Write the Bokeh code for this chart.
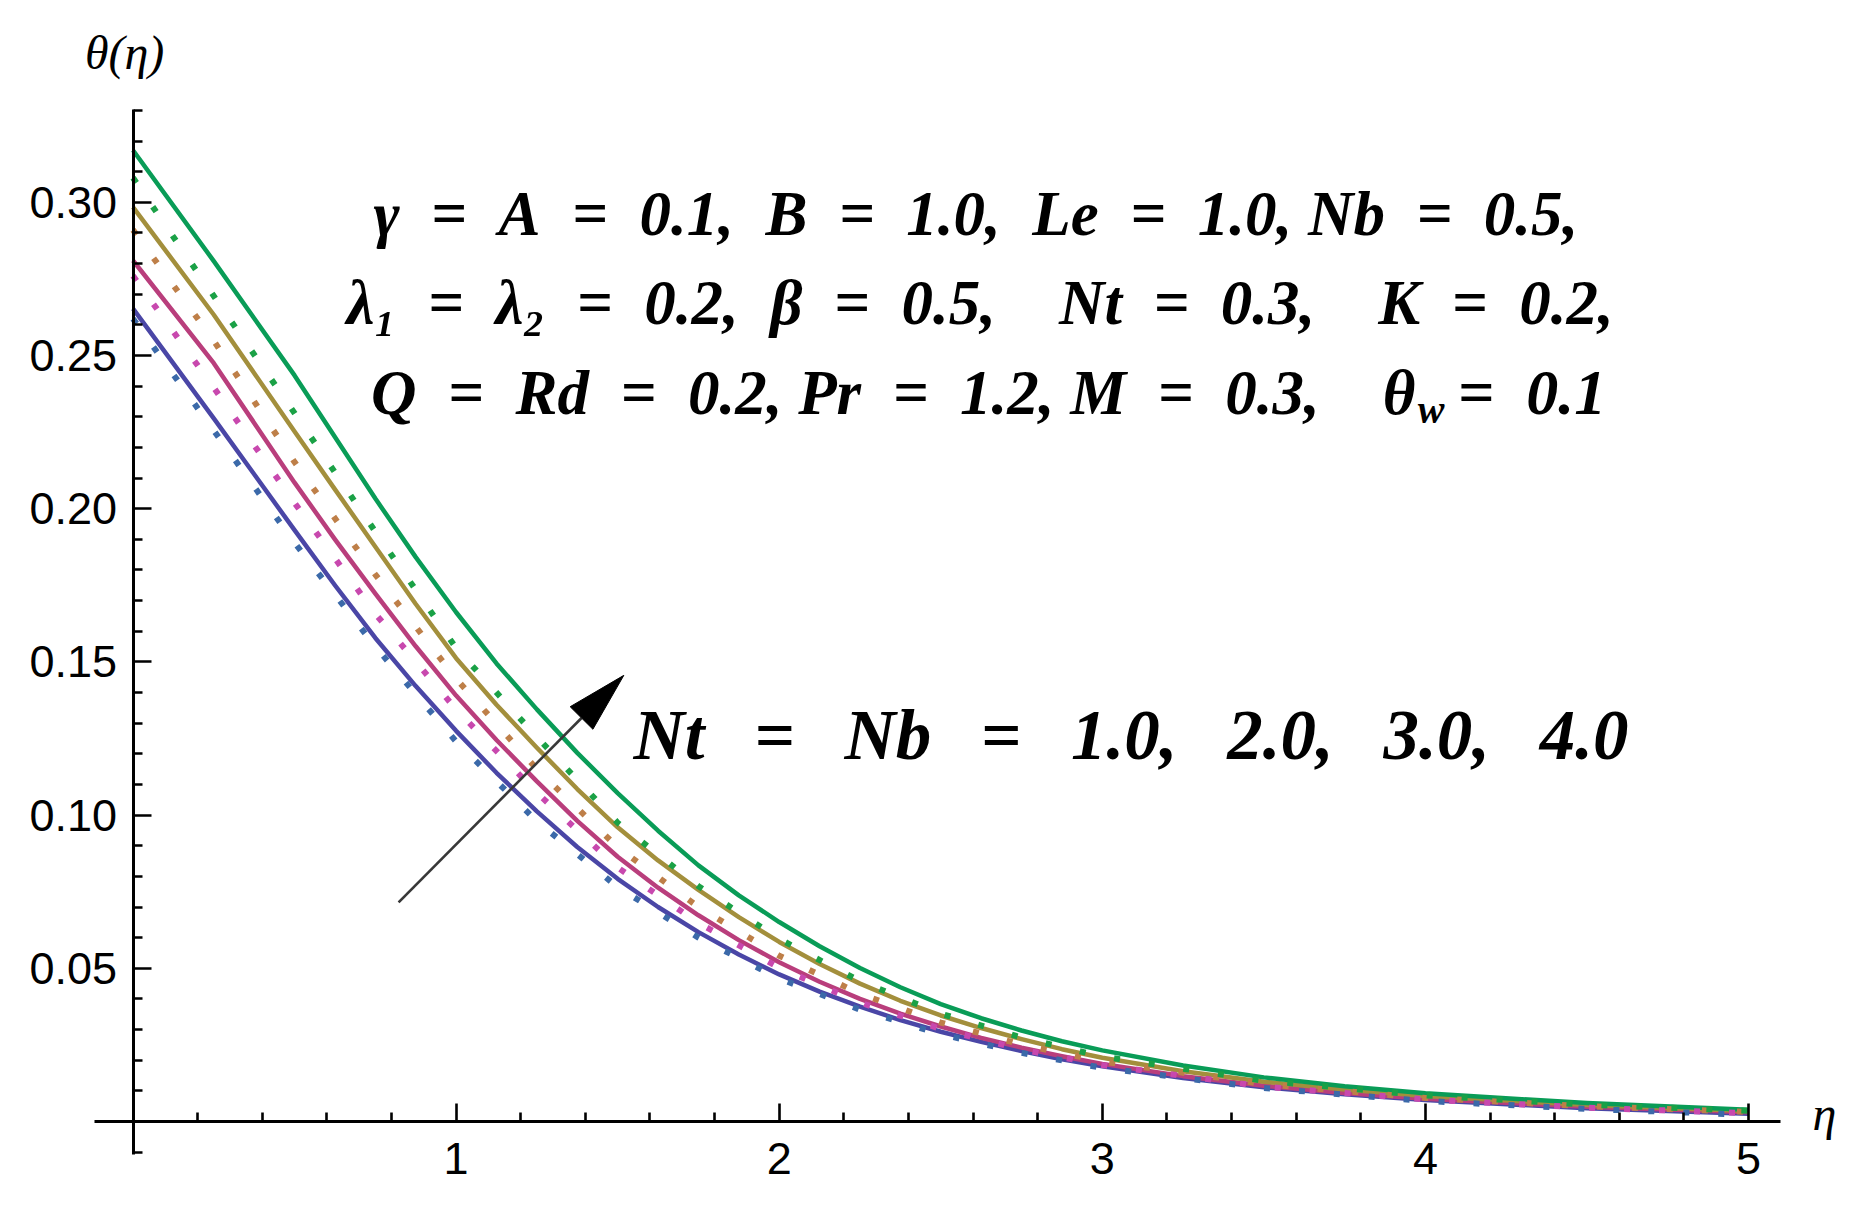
import math
from bokeh.plotting import figure
from bokeh.models import Label, FixedTicker, Range1d, NumeralTickFormatter
from bokeh.embed import file_html
from bokeh.resources import INLINE

# ---------------- data ----------------
# solid curves (Nt = Nb = 1, 2, 3, 4), read on a finer eta grid
eta_solid = [0.0, 0.25, 0.5, 0.625, 0.75, 0.875, 1.0, 1.125, 1.25, 1.375, 1.5, 1.625, 1.75, 1.875,
             2.0, 2.125, 2.25, 2.375, 2.5, 2.625, 2.75, 2.875, 3.0, 3.25, 3.5, 3.75, 4.0, 4.5, 5.0]
theta_solid_1 = [0.2653, 0.2295, 0.1930, 0.1750, 0.1578, 0.1421, 0.1275, 0.1138, 0.1012, 0.0896, 0.0792, 0.0700, 0.0618, 0.0545,
                 0.0480, 0.0424, 0.0375, 0.0331, 0.0293, 0.0260, 0.0230, 0.0203, 0.0180, 0.0142, 0.0112, 0.0089, 0.0070, 0.0043, 0.0025]
theta_solid_2 = [0.2810, 0.2475, 0.2085, 0.1900, 0.1723, 0.1551, 0.1390, 0.1245, 0.1110, 0.0981, 0.0864, 0.0763, 0.0673, 0.0592,
                 0.0520, 0.0456, 0.0400, 0.0352, 0.0310, 0.0273, 0.0241, 0.0213, 0.0188, 0.0148, 0.0117, 0.0093, 0.0074, 0.0048, 0.0030]
theta_solid_3 = [0.2984, 0.2633, 0.2252, 0.2063, 0.1876, 0.1689, 0.1512, 0.1360, 0.1220, 0.1085, 0.0960, 0.0852, 0.0756, 0.0667,
                 0.0586, 0.0514, 0.0450, 0.0394, 0.0346, 0.0305, 0.0269, 0.0236, 0.0208, 0.0164, 0.0130, 0.0104, 0.0083, 0.0054, 0.0034]
theta_solid_4 = [0.3170, 0.2808, 0.2435, 0.2234, 0.2033, 0.1842, 0.1662, 0.1495, 0.1345, 0.1203, 0.1072, 0.0949, 0.0836, 0.0738,
                 0.0651, 0.0572, 0.0501, 0.0438, 0.0383, 0.0337, 0.0297, 0.0262, 0.0232, 0.0183, 0.0144, 0.0115, 0.0092, 0.0060, 0.0038]

# dotted curves
eta_dot = [0.0, 0.25, 0.5, 0.75, 1.0, 1.25, 1.5, 1.75, 2.0, 2.25, 2.5, 2.75, 3.0, 3.5, 4.0, 4.5, 5.0]
theta_dot_1 = [0.2620, 0.2255, 0.1889, 0.1550, 0.1240, 0.0980, 0.0765, 0.0600, 0.0467, 0.0365, 0.0285, 0.0224, 0.0175, 0.0109, 0.0067, 0.0041, 0.0022]
theta_dot_2 = [0.2760, 0.2395, 0.2019, 0.1657, 0.1345, 0.1073, 0.0829, 0.0648, 0.0502, 0.0388, 0.0302, 0.0235, 0.0184, 0.0114, 0.0072, 0.0045, 0.0027]
theta_dot_3 = [0.2910, 0.2548, 0.2152, 0.1785, 0.1445, 0.1150, 0.0895, 0.0700, 0.0541, 0.0417, 0.0323, 0.0251, 0.0196, 0.0122, 0.0077, 0.0050, 0.0031]
theta_dot_4 = [0.3080, 0.2694, 0.2312, 0.1925, 0.1545, 0.1255, 0.0975, 0.0768, 0.0596, 0.0458, 0.0352, 0.0274, 0.0212, 0.0133, 0.0085, 0.0055, 0.0035]

solid_colors = ["#4A46A6", "#B93E7C", "#A38F3C", "#099C57"]
dotted_colors = ["#3B69A9", "#C848AE", "#BE7F48", "#1AA146"]

x_major_ticks = [1, 2, 3, 4, 5]
x_tick_labels = ["1", "2", "3", "4", "5"]
x_minor_ticks = [0.2, 0.4, 0.6, 0.8, 1.2, 1.4, 1.6, 1.8, 2.2, 2.4, 2.6, 2.8,
                 3.2, 3.4, 3.6, 3.8, 4.2, 4.4, 4.6, 4.8]
y_major_ticks = [0.05, 0.10, 0.15, 0.20, 0.25, 0.30]
y_tick_labels = ["0.05", "0.10", "0.15", "0.20", "0.25", "0.30"]
y_minor_ticks = [-0.01, 0.01, 0.02, 0.03, 0.04, 0.06, 0.07, 0.08, 0.09, 0.11, 0.12, 0.13, 0.14,
                 0.16, 0.17, 0.18, 0.19, 0.21, 0.22, 0.23, 0.24, 0.26, 0.27, 0.28, 0.29,
                 0.31, 0.32, 0.33]

arrow_start = (0.822, 0.0715)
arrow_end = (1.519, 0.1456)

# ---------------- figure ----------------
W, H = 1857, 1199
X0, X1 = -0.4101, 5.3373
Y0, Y1 = -0.02546, 0.36586
x_axis_bounds = (-0.12, 5.10)
y_axis_bounds = (-0.0108, 0.3302)

p = figure(width=W, height=H, x_range=Range1d(X0, X1), y_range=Range1d(Y0, Y1),
           output_backend="svg", toolbar_location=None,
           min_border_left=0, min_border_right=0, min_border_top=0, min_border_bottom=0)
p.title.visible = False
p.outline_line_color = None
p.xgrid.visible = False
p.ygrid.visible = False
p.background_fill_color = "white"

xa = p.xaxis[0]
ya = p.yaxis[0]
xa.fixed_location = 0
ya.fixed_location = 0
xa.bounds = x_axis_bounds
ya.bounds = y_axis_bounds
xa.ticker = FixedTicker(ticks=x_major_ticks, minor_ticks=x_minor_ticks)
ya.ticker = FixedTicker(ticks=y_major_ticks, minor_ticks=y_minor_ticks)
xa.major_label_overrides = {t: s for t, s in zip(x_major_ticks, x_tick_labels)}
ya.formatter = NumeralTickFormatter(format="0.00")
ya.major_label_overrides = {t: s for t, s in zip(y_major_ticks, y_tick_labels)}

for ax in (xa, ya):
    ax.axis_line_color = "black"
    ax.axis_line_width = 3
    ax.major_tick_line_color = "black"
    ax.minor_tick_line_color = "black"
    ax.major_tick_line_width = 2.6
    ax.minor_tick_line_width = 2.6
    ax.major_tick_in = 18
    ax.major_tick_out = 0
    ax.minor_tick_in = 9
    ax.minor_tick_out = 0
    ax.major_label_text_font = "Liberation Sans"
    ax.major_label_text_font_size = "45px"
    ax.major_label_text_color = "black"
xa.major_label_standoff = 22
ya.major_label_standoff = 16

solid = [theta_solid_1, theta_solid_2, theta_solid_3, theta_solid_4]
dotted = [theta_dot_1, theta_dot_2, theta_dot_3, theta_dot_4]
for ys, c in zip(solid, solid_colors):
    p.line(eta_solid, ys, line_color=c, line_width=4.5, line_join="round")
for ys, c in zip(dotted, dotted_colors):
    p.line(eta_dot, ys, line_color=c, line_width=6, line_dash="6 29")

# ---------------- arrow ----------------
kx = W / (X1 - X0)
ky = H / (Y1 - Y0)
dxp = (arrow_end[0] - arrow_start[0]) * kx
dyp = (arrow_end[1] - arrow_start[1]) * ky
ln = math.hypot(dxp, dyp)
ux, uy = dxp / ln, dyp / ln
head_len, head_half = 60.0, 16.0
bx = arrow_end[0] - head_len * ux / kx
by = arrow_end[1] - head_len * uy / ky
c1 = (bx - head_half * uy / kx, by + head_half * ux / ky)
c2 = (bx + head_half * uy / kx, by - head_half * ux / ky)
p.line([arrow_start[0], bx], [arrow_start[1], by], line_color="#383838", line_width=2.6)
p.patch([arrow_end[0], c1[0], c2[0]], [arrow_end[1], c1[1], c2[1]],
        fill_color="black", line_color="black", line_width=1)

# ---------------- texts ----------------
SERIF = "Liberation Serif"
E = "\u2002=\u2002"   # spacing around equals signs
EN = "\u2002"

def add_label(x, y, text, size, align="left", style="bold italic", font=SERIF):
    p.add_layout(Label(x=x, y=y, text=text, text_font=font, text_font_size=size,
                       text_font_style=style, text_align=align,
                       text_baseline="alphabetic", text_color="black"))

line1 = "γ" + E + "A" + E + "0.1," + EN + "B" + E + "1.0," + EN + "Le" + E + "1.0, Nb" + E + "0.5,"
line2 = "λ₁" + E + "λ₂" + E + "0.2," + EN + "β" + E + "0.5," + EN + EN + "Nt" + E + "0.3," + EN + EN + "K" + E + "0.2,"
line3 = "Q" + E + "Rd" + E + "0.2, Pr" + E + "1.2, M" + E + "0.3," + EN + EN + "θ"

add_label(0.744, 0.2963, line1, "63px")
add_label(0.661, 0.2671, line2, "63px")
add_label(3.969, 0.2379, line3, "63px", align="right")
add_label(3.976, 0.2325, "w", "40px")
add_label(4.100, 0.2379, "=" + EN + "0.1", "64px")

G = "\u2002\u2009"
big = "Nt" + G + "=" + G + "Nb" + G + "=" + G + "1.0," + G + "2.0," + G + "3.0," + G + "4.0"
add_label(1.549, 0.1260, big, "71px")

add_label(-0.026, 0.3489, "θ(η)", "48px", align="center", style="italic")
add_label(5.198, 0.0026, "η", "48px", style="italic")

open("out.html", "w").write(file_html(p, INLINE))
